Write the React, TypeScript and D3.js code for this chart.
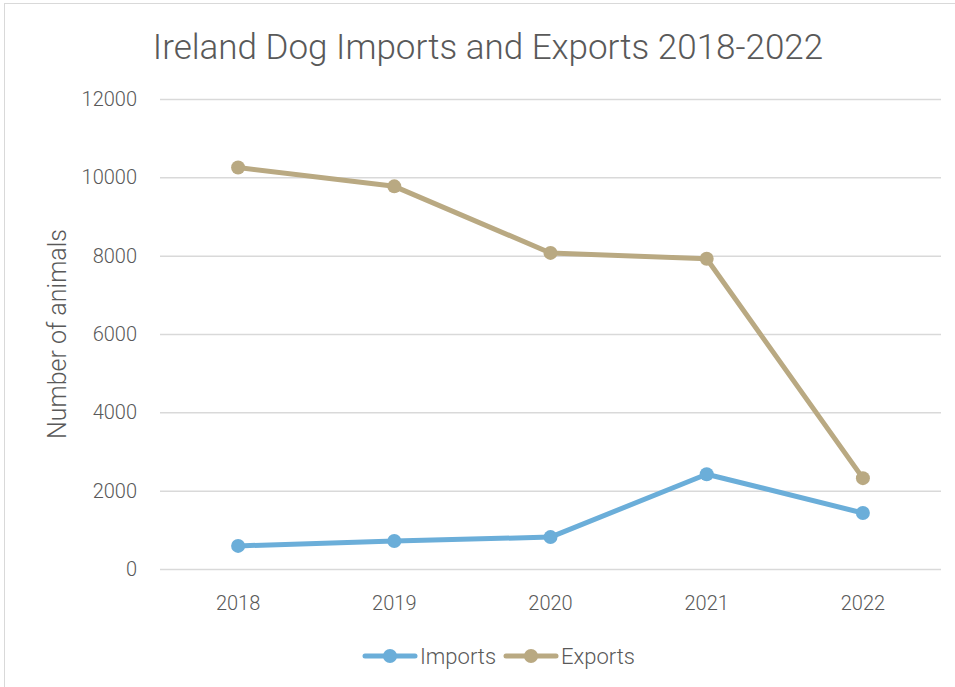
import * as d3 from 'd3';
import * as React from 'react';
import { useEffect, useRef } from 'react';

const years = ['2018', '2019', '2020', '2021', '2022'];
const imports = [590, 715, 815, 2420, 1430];
const exports = [10250, 9770, 8070, 7920, 2320];
const yTicks = [0, 2000, 4000, 6000, 8000, 10000, 12000];

const seriesList = [
  { name: 'Imports', values: imports, color: '#6BAED9' },
  { name: 'Exports', values: exports, color: '#B9A982' },
];

const App = () => {
  const ref = useRef<SVGSVGElement | null>(null);

  useEffect(() => {
    const width = 955, height = 687;
    const margin = { top: 99, right: 14, bottom: 118, left: 160 };
    const font = 'Roboto, "DejaVu Sans", sans-serif';

    const svg = d3.select(ref.current);
    svg.selectAll('*').remove();

    // chart frame
    svg.append('rect')
      .attr('x', 4.5).attr('y', 3.5)
      .attr('width', width + 20).attr('height', height + 20)
      .attr('fill', '#fff').attr('stroke', '#d9d9d9');

    svg.append('text')
      .attr('x', 488).attr('y', 59)
      .attr('text-anchor', 'middle')
      .attr('font-family', font).attr('font-weight', 300)
      .attr('font-size', 35).attr('fill', '#595959')
      .text('Ireland Dog Imports and Exports 2018-2022');

    const x = d3.scaleBand().domain(years)
      .range([margin.left, width - margin.right]);
    const y = d3.scaleLinear().domain([0, 12000])
      .range([height - margin.bottom, margin.top]);

    // gridlines
    svg.append('g').selectAll('line')
      .data(yTicks).enter().append('line')
      .attr('x1', margin.left).attr('x2', width - margin.right)
      .attr('y1', d => y(d) + 0.5).attr('y2', d => y(d) + 0.5)
      .attr('stroke', '#d9d9d9').attr('stroke-width', 1.5);

    svg.append('g').selectAll('text')
      .data(yTicks).enter().append('text')
      .attr('x', 137).attr('y', d => y(d) + 7)
      .attr('text-anchor', 'end')
      .attr('font-family', font).attr('font-weight', 300)
      .attr('font-size', 20).attr('fill', '#595959')
      .text(d => String(d));

    svg.append('g').selectAll('text')
      .data(years).enter().append('text')
      .attr('x', d => (x(d) as number) + x.bandwidth() / 2).attr('y', 610)
      .attr('text-anchor', 'middle')
      .attr('font-family', font).attr('font-weight', 300)
      .attr('font-size', 20).attr('fill', '#595959')
      .text(d => d);

    svg.append('text')
      .attr('transform', 'translate(66,' + (margin.top + (height - margin.bottom - margin.top) / 2) + ') rotate(-90)')
      .attr('text-anchor', 'middle')
      .attr('font-family', font).attr('font-weight', 300)
      .attr('font-size', 25).attr('fill', '#595959')
      .text('Number of animals');

    const line = d3.line<number>()
      .x((d, i) => (x(years[i]) as number) + x.bandwidth() / 2)
      .y(d => y(d));

    seriesList.forEach(s => {
      svg.append('path')
        .attr('d', line(s.values) as string)
        .attr('fill', 'none').attr('stroke', s.color)
        .attr('stroke-width', 5).attr('stroke-linejoin', 'round').attr('stroke-linecap', 'round');
      svg.append('g').selectAll('circle')
        .data(s.values).enter().append('circle')
        .attr('cx', (d, i) => (x(years[i]) as number) + x.bandwidth() / 2)
        .attr('cy', d => y(d))
        .attr('r', 7).attr('fill', s.color);
    });

    // legend
    const legendX = [363, 504];
    seriesList.forEach((s, i) => {
      const g = svg.append('g').attr('transform', 'translate(' + legendX[i] + ',656)');
      g.append('line').attr('x1', 2).attr('x2', 52)
        .attr('stroke', s.color).attr('stroke-width', 5).attr('stroke-linecap', 'round');
      g.append('circle').attr('cx', 27).attr('r', 7).attr('fill', s.color);
      g.append('text').attr('x', 57).attr('y', 8)
        .attr('font-family', font).attr('font-weight', 300)
        .attr('font-size', 22).attr('fill', '#595959')
        .text(s.name);
    });
  }, []);

  return (
    <svg ref={ref} width={955} height={687}
      style={{ position: 'absolute', left: 0, top: 0, display: 'block' }} />
  );
};

export default App;
